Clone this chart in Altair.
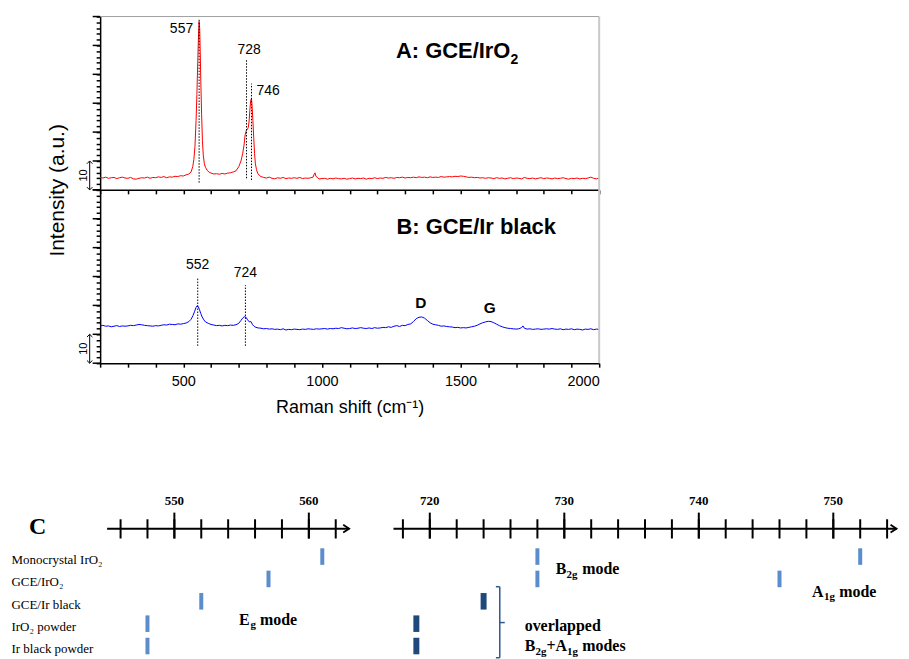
import altair as alt
import pandas as pd

SANS = "Liberation Sans"
SERIF = "Liberation Serif"

# ---------------- A: GCE/IrO2 Raman spectrum (shift cm-1, intensity a.u.) ----------------
spectrum_a = [
    (200, 4.3), (210, 4.1), (220, 4.4), (230, 4.0), (240, 4.2), (250, 4.3), (260, 3.9), (270, 4.2),
    (280, 4.4), (290, 4.1), (300, 4.0), (310, 4.3), (320, 3.8), (330, 3.7), (340, 4.0), (350, 4.2),
    (360, 4.1), (370, 4.4), (380, 4.0), (390, 4.3), (400, 4.2), (410, 4.5), (420, 4.3), (430, 4.6),
    (440, 4.2), (450, 4.5), (460, 4.4), (470, 4.7), (480, 4.6), (490, 4.9), (500, 4.8), (510, 5.2),
    (520, 5.5), (528, 6.2), (534, 8.0), (538, 10.5), (542, 15.0), (546, 24.0), (549, 33.0), (552, 44.0),
    (555, 54.0), (557, 58.3), (559, 56.0), (561, 48.0), (563, 38.0), (566, 26.0), (569, 17.0), (572, 12.0),
    (576, 9.0), (580, 7.8), (586, 6.8), (592, 6.2), (600, 5.8), (610, 5.5), (620, 5.6), (630, 5.4),
    (640, 5.7), (650, 5.5), (660, 5.8), (670, 5.9), (680, 6.2), (690, 6.6), (700, 8.0), (708, 10.0),
    (714, 12.5), (719, 15.5), (723, 19.0), (727, 20.5), (730, 20.8), (734, 21.5), (737, 23.5), (740, 27.5),
    (743, 31.0), (746, 31.6), (748, 29.0), (751, 24.0), (754, 18.0), (757, 12.5), (760, 9.0), (764, 7.0),
    (768, 5.8), (774, 5.0), (780, 4.6), (790, 4.3), (800, 4.1), (810, 4.4), (820, 4.0), (830, 3.8),
    (840, 4.2), (850, 4.0), (860, 4.3), (870, 3.9), (880, 4.1), (890, 4.0), (900, 4.2), (910, 4.0),
    (920, 4.3), (930, 3.9), (940, 4.1), (950, 4.0), (960, 4.2), (968, 4.4), (972, 5.4), (975, 5.9),
    (978, 4.8), (985, 4.1), (990, 3.8), (1000, 3.9), (1010, 4.0), (1020, 3.7), (1030, 4.0), (1040, 3.8),
    (1050, 4.1), (1060, 3.9), (1070, 3.8), (1080, 4.0), (1090, 3.7), (1100, 3.9), (1110, 4.1), (1120, 3.8),
    (1130, 4.0), (1140, 3.9), (1150, 4.1), (1160, 3.7), (1170, 4.0), (1180, 3.9), (1190, 4.2), (1200, 3.9),
    (1210, 4.1), (1220, 4.0), (1230, 4.3), (1240, 4.1), (1250, 4.2), (1260, 4.0), (1270, 4.3), (1280, 4.2),
    (1290, 4.4), (1300, 4.1), (1310, 4.3), (1320, 4.2), (1330, 4.4), (1340, 4.2), (1350, 4.5), (1360, 4.3),
    (1370, 4.4), (1380, 4.2), (1390, 4.5), (1400, 4.3), (1410, 4.4), (1420, 4.3), (1430, 4.6), (1440, 4.4),
    (1450, 4.5), (1460, 4.6), (1470, 4.5), (1480, 4.7), (1490, 4.6), (1500, 4.8), (1510, 4.7), (1520, 4.5),
    (1530, 4.3), (1540, 4.4), (1550, 4.2), (1560, 4.3), (1570, 4.1), (1580, 4.2), (1590, 4.0), (1600, 4.2),
    (1610, 4.1), (1620, 3.9), (1630, 4.2), (1640, 4.0), (1650, 4.1), (1660, 3.8), (1670, 4.0), (1680, 4.2),
    (1690, 3.9), (1700, 4.1), (1710, 4.0), (1720, 3.8), (1730, 4.3), (1740, 4.0), (1750, 3.9), (1760, 4.1),
    (1770, 3.8), (1780, 4.0), (1790, 4.2), (1800, 3.9), (1810, 4.1), (1820, 4.0), (1830, 3.8), (1840, 4.1),
    (1850, 3.9), (1860, 4.0), (1870, 4.2), (1880, 3.9), (1890, 3.7), (1900, 4.0), (1910, 3.9), (1920, 4.1),
    (1930, 3.8), (1940, 4.0), (1950, 3.9), (1960, 4.1), (1970, 4.4), (1980, 4.0), (1990, 3.8), (2000, 4.1),
]

# ---------------- B: GCE/Ir black Raman spectrum ----------------
spectrum_b = [
    (200, 12.9), (210, 13.1), (220, 12.8), (230, 12.9), (240, 12.6), (250, 12.8), (260, 13.0), (270, 12.7),
    (280, 12.9), (290, 12.8), (300, 12.9), (310, 13.1), (320, 13.0), (330, 13.2), (340, 13.4), (350, 13.3),
    (360, 13.1), (370, 13.0), (380, 12.9), (390, 12.8), (400, 13.0), (410, 12.9), (420, 13.1), (430, 13.3),
    (440, 13.2), (450, 13.5), (460, 13.4), (470, 13.3), (480, 13.6), (490, 13.5), (500, 13.7), (510, 13.9),
    (520, 14.4), (528, 15.2), (535, 16.5), (541, 18.0), (546, 19.3), (550, 19.9), (554, 19.6), (558, 18.6),
    (563, 17.2), (568, 16.0), (574, 15.0), (580, 14.3), (590, 13.8), (600, 13.4), (610, 13.2), (620, 13.0),
    (630, 13.1), (640, 12.9), (650, 13.1), (660, 13.0), (670, 13.2), (680, 13.1), (690, 13.3), (700, 13.8),
    (708, 14.8), (714, 15.6), (720, 16.1), (726, 15.9), (732, 15.0), (738, 14.3), (744, 14.4), (750, 13.3),
    (756, 12.7), (762, 12.4), (770, 12.2), (780, 12.1), (790, 11.9), (800, 12.0), (810, 11.8), (820, 11.9),
    (830, 11.7), (840, 11.8), (850, 11.6), (860, 11.9), (870, 11.5), (880, 11.7), (890, 11.6), (900, 11.8),
    (910, 11.7), (920, 11.6), (930, 11.8), (940, 11.7), (950, 11.9), (960, 11.8), (970, 11.7), (980, 11.9),
    (990, 11.8), (1000, 11.9), (1010, 12.0), (1020, 11.8), (1030, 12.0), (1040, 11.9), (1050, 12.1), (1060, 12.0),
    (1070, 12.3), (1080, 12.1), (1090, 11.9), (1100, 12.0), (1110, 12.2), (1120, 12.0), (1130, 12.1), (1140, 12.3),
    (1150, 12.1), (1160, 12.0), (1170, 12.2), (1180, 12.0), (1190, 12.3), (1200, 12.1), (1210, 12.2), (1220, 12.4),
    (1230, 12.3), (1240, 12.6), (1250, 12.4), (1260, 12.8), (1270, 13.0), (1280, 12.7), (1290, 13.1), (1300, 13.0),
    (1310, 13.4), (1320, 13.6), (1330, 14.4), (1340, 15.4), (1350, 15.9), (1360, 16.0), (1370, 15.6), (1380, 14.8),
    (1390, 14.0), (1400, 13.5), (1410, 13.3), (1420, 13.1), (1430, 12.8), (1440, 12.9), (1450, 12.7), (1460, 12.6),
    (1470, 12.5), (1480, 12.3), (1490, 12.4), (1500, 12.2), (1510, 12.3), (1520, 12.2), (1530, 12.4), (1540, 12.6),
    (1550, 12.8), (1560, 13.1), (1570, 13.6), (1580, 14.0), (1590, 14.3), (1600, 14.5), (1610, 14.4), (1620, 14.0),
    (1630, 13.5), (1640, 13.0), (1650, 12.6), (1660, 12.3), (1670, 12.1), (1680, 12.0), (1690, 11.9), (1700, 11.8),
    (1710, 11.9), (1720, 12.3), (1725, 12.9), (1730, 12.1), (1740, 11.8), (1750, 11.9), (1760, 11.7), (1770, 11.8),
    (1780, 11.9), (1790, 11.7), (1800, 11.8), (1810, 11.9), (1820, 11.8), (1830, 12.0), (1840, 11.8), (1850, 11.7),
    (1860, 11.9), (1870, 11.6), (1880, 11.8), (1890, 11.7), (1900, 11.9), (1910, 11.6), (1920, 11.8), (1930, 11.7),
    (1940, 11.5), (1950, 11.8), (1960, 11.7), (1970, 11.9), (1980, 11.6), (1990, 11.8), (2000, 11.7),
]

peaks_a = [557, 728, 746]
peaks_b = [552, 724]
carbon_bands = ["D", "G"]
carbon_band_pos = [1357, 1605]

x_tick_values = [200, 300, 400, 500, 600, 700, 800, 900, 1000, 1100, 1200, 1300, 1400,
                 1500, 1600, 1700, 1800, 1900, 2000]
y_minor_ticks = [0, 2, 4, 6, 8, 10, 12, 14, 16, 18, 20, 22, 24, 26, 28, 30, 32, 34, 36, 38,
                 40, 42, 44, 46, 48, 50, 52, 54, 56, 58, 60]
y_major_ticks = [0, 10, 20, 30, 40, 50, 60]
scale_bar = [0, 10]

# ---------------- C: band positions ----------------
samples = ["Monocrystal IrO₂", "GCE/IrO₂", "GCE/Ir black", "IrO₂ powder", "Ir black powder"]
eg_mode = [561, 557, 552, 548, 548]          # all five samples
b2g_mode = [728, 728]                         # Monocrystal IrO2, GCE/IrO2
a1g_mode = [752, 746]                         # Monocrystal IrO2, GCE/IrO2
overlapped_mode = [724, 719, 719]             # GCE/Ir black, IrO2 powder, Ir black powder
left_ticks = [546, 548, 550, 552, 554, 556, 558, 560, 562]
left_major = [550, 560]
right_ticks = [718, 720, 722, 724, 726, 728, 730, 732, 734, 736, 738, 740, 742, 744, 746,
               748, 750, 752, 754]
right_major = [720, 730, 740, 750]

# ---------------- layout ----------------
X0 = 100.5           # absolute x of plot left edge
W, H = 501, 174      # spectrum panel size
PC_TOP = 14.3 + 2 * H
PC_H = 293.7
PC_W = 800

one = pd.DataFrame({"k": [0]})
x_sc = alt.Scale(domain=[200, 2000], nice=False, zero=False)
y_sc = alt.Scale(domain=[0, 60], nice=False, zero=False)


def xaxis(bottom):
    kw = dict(values=x_tick_values, tickSize=4, tickWidth=1.5, tickColor="black",
              domainColor="black", domainWidth=1.5, grid=False)
    if bottom:
        kw.update(format="d", labelExpr="datum.value % 500 == 0 ? datum.label : ''",
                  labelFont=SANS, labelFontSize=14.5, labelColor="black", labelPadding=7,
                  title="Raman shift (cm⁻¹)", titleFont=SANS, titleFontSize=18,
                  titleFontWeight="normal", titleColor="black", titlePadding=11)
    else:
        kw.update(labels=False, title=None)
    return alt.Axis(**kw)


def yaxis(with_title):
    kw = dict(values=y_minor_ticks, tickSize=4, tickWidth=1.5, tickColor="black",
              domainColor="black", domainWidth=1.5, labels=False, grid=False)
    if with_title:
        kw.update(title="Intensity (a.u.)", titleFont=SANS, titleFontSize=21,
                  titleFontWeight="normal", titleColor="black", titleX=-42.5, titleY=H,
                  titleAngle=270, titleAlign="center", titleBaseline="middle")
    else:
        kw.update(title=None)
    return alt.Axis(**kw)


def make_panel(pairs, color, is_bottom, dotted_specs, label_specs):
    XA = xaxis(is_bottom)
    YA = yaxis(not is_bottom)

    def X(v):
        return alt.XDatum(v, scale=x_sc, axis=XA)

    def Y(v):
        return alt.YDatum(v, scale=y_sc, axis=YA)

    df = pd.DataFrame(pairs, columns=["shift", "intensity"])
    layers = [alt.Chart(df).mark_line(color=color, strokeWidth=1).encode(
        x=alt.X("shift:Q", scale=x_sc, axis=XA),
        y=alt.Y("intensity:Q", scale=y_sc, axis=YA))]
    if not is_bottom:
        layers.append(alt.Chart(one).mark_rule(color="#a0a0a0", strokeWidth=1).encode(
            x=X(200), x2=alt.X2Datum(2000), y=Y(60)))
    # right frame
    layers.append(alt.Chart(one).mark_rule(color="#c8c8c8", strokeWidth=2).encode(
        x=X(2000), y=Y(0), y2=alt.Y2Datum(60)))
    # long (major) ticks on the intensity axis
    layers.append(alt.Chart(pd.DataFrame({"v": y_major_ticks})).mark_rule(
        color="black", strokeWidth=1.5).encode(
        y=alt.Y("v:Q", scale=y_sc, axis=YA), x=alt.value(-7.5), x2=alt.value(0)))
    # "10" scale bar with arrow heads
    layers.append(alt.Chart(pd.DataFrame({"v": scale_bar})).mark_line(
        color="black", strokeWidth=1).encode(
        x=alt.value(-10.5), y=alt.Y("v:Q", scale=y_sc, axis=YA)))
    layers.append(alt.Chart(one).mark_point(shape="M-1,1L0,0L1,1", size=30, filled=False,
                                            color="black", strokeWidth=1, opacity=1).encode(
        x=alt.value(-10.5), y=Y(scale_bar[1])))
    layers.append(alt.Chart(one).mark_point(shape="M-1,-1L0,0L1,-1", size=30, filled=False,
                                            color="black", strokeWidth=1, opacity=1).encode(
        x=alt.value(-10.5), y=Y(scale_bar[0])))
    layers.append(alt.Chart(one).mark_text(text=str(scale_bar[1]), angle=270, font=SANS,
                                           fontSize=11, color="black", baseline="middle",
                                           align="center").encode(
        x=alt.value(-16.5), y=Y(5)))
    for (xv, lo, hi) in dotted_specs:
        layers.append(alt.Chart(one).mark_rule(color="black", strokeWidth=1,
                                               strokeDash=[1.5, 1.5]).encode(
            x=X(xv), y=Y(lo), y2=alt.Y2Datum(hi)))
    for (text, xv, yv, size, weight, align, dx, dy) in label_specs:
        layers.append(alt.Chart(one).mark_text(text=text, font=SANS, fontSize=size,
                                               fontWeight=weight, align=align,
                                               baseline="middle", dx=dx, dy=dy,
                                               color="black").encode(x=X(xv), y=Y(yv)))
    return alt.layer(*layers).properties(width=W, height=H)


top = make_panel(
    spectrum_a, "#ff0000", False,
    [(peaks_a[0], 2.5, 59.2), (peaks_a[1], 4.0, 45.2), (peaks_a[2], 3.4, 36.8)],
    [(str(peaks_a[0]), peaks_a[0], 55.6, 14, "normal", "right", -6, 0),
     (str(peaks_a[1]), peaks_a[1], 48.3, 14, "normal", "center", 2.5, 0),
     (str(peaks_a[2]), peaks_a[2], 34.3, 14, "normal", "left", 5, 0),
     ("A: GCE/IrO", 1267, 48, 22, "bold", "left", 0, 0),
     ("2", 1267, 48, 14, "bold", "left", 115, 9)])

bottom = make_panel(
    spectrum_b, "#0000ff", True,
    [(peaks_b[0], 6, 29.8), (peaks_b[1], 6, 27.0)],
    [(str(peaks_b[0]), peaks_b[0], 33.9, 14, "normal", "center", 0, 0),
     (str(peaks_b[1]), peaks_b[1], 31.2, 14, "normal", "center", 0, 0),
     (carbon_bands[0], carbon_band_pos[0], 20.8, 15.5, "bold", "center", 0, 0),
     (carbon_bands[1], carbon_band_pos[1], 19.0, 15.5, "bold", "center", 0, 0),
     ("B: GCE/Ir black", 1269, 47.3, 22, "bold", "left", 0, 0)])

# ---------- panel C ----------
row_sc = alt.Scale(domain=[-7.648, 5.434], reverse=True, nice=False, zero=False)
lx_sc = alt.Scale(domain=[544.48, 563.11], range=[0, 251.5], nice=False, zero=False)
rx_sc = alt.Scale(domain=[717.3, 754.7], range=[294.5, 799.5], nice=False, zero=False)

LIGHT = "#5b8dcd"
DARK = "#1f497d"
LINE_Y = 528.4 - PC_TOP


def px(xabs):
    return xabs - X0


def py(yabs):
    return yabs - PC_TOP


def number_line(xsc, start, end, ticks, majors):
    line = alt.Chart(one).mark_rule(color="black", strokeWidth=2).encode(
        x=alt.XDatum(start, scale=xsc, axis=None), x2=alt.X2Datum(end), y=alt.value(LINE_Y))
    head = alt.Chart(one).mark_point(shape="M-1.5,-1L0,0L-1.5,1", size=64, filled=False,
                                     color="black", strokeWidth=1.8, opacity=1).encode(
        x=alt.XDatum(end, scale=xsc, axis=None), y=alt.value(LINE_Y))
    minor = alt.Chart(pd.DataFrame({"v": ticks})).mark_rule(color="black", strokeWidth=2).encode(
        x=alt.X("v:Q", scale=xsc, axis=None), y=alt.value(py(519.0)), y2=alt.value(py(538.3)))
    major = alt.Chart(pd.DataFrame({"v": majors})).mark_rule(color="black", strokeWidth=2).encode(
        x=alt.X("v:Q", scale=xsc, axis=None), y=alt.value(py(512.3)), y2=alt.value(py(538.3)))
    labels = alt.Chart(pd.DataFrame({"v": majors})).mark_text(
        font=SERIF, fontSize=13, fontWeight="bold", color="black", baseline="middle",
        align="center").encode(
        x=alt.X("v:Q", scale=xsc, axis=None), y=alt.value(py(500.8)), text="v:Q")
    return [line, head, minor, major, labels]


def bars(df, xsc, color, width):
    return alt.Chart(df).transform_calculate(
        lo="datum.row - 0.37", hi="datum.row + 0.37"
    ).mark_rule(color=color, strokeWidth=width).encode(
        x=alt.X("pos:Q", scale=xsc, axis=None),
        y=alt.Y("lo:Q", scale=row_sc, axis=None), y2="hi:Q")


eg_df = pd.DataFrame({"row": [1, 2, 3, 4, 5], "pos": eg_mode})
light_r_df = pd.DataFrame({"row": [1, 2, 1, 2], "pos": b2g_mode + a1g_mode})
dark_df = pd.DataFrame({"row": [3, 4, 5], "pos": overlapped_mode})
rows_df = pd.DataFrame({"sample": samples, "row": [1, 2, 3, 4, 5]})

left_group = alt.layer(*(number_line(lx_sc, 545, 563.0, left_ticks, left_major)
                         + [bars(eg_df, lx_sc, LIGHT, 4)]))
right_group = alt.layer(*(number_line(rx_sc, 717.3, 754.7, right_ticks, right_major)
                          + [bars(light_r_df, rx_sc, LIGHT, 4), bars(dark_df, rx_sc, DARK, 6)]))


def ptxt(text, xabs, yabs, size, weight="bold", baseline="alphabetic", align="left"):
    return alt.Chart(one).mark_text(text=text, font=SERIF, fontSize=size, fontWeight=weight,
                                    color="black", baseline=baseline, align=align).encode(
        x=alt.value(px(xabs)), y=alt.value(py(yabs)))


def seg(x1, y1, x2, y2, color="#2e5a8f"):
    return alt.Chart(one).mark_rule(color=color, strokeWidth=1.5).encode(
        x=alt.value(px(x1)), x2=alt.value(px(x2)), y=alt.value(py(y1)), y2=alt.value(py(y2)))


row_labels = alt.Chart(rows_df).mark_text(font=SERIF, fontSize=13, align="left",
                                          baseline="middle", dy=3.3, color="black").encode(
    x=alt.value(px(11.5)), y=alt.Y("row:Q", scale=row_sc, axis=None), text="sample:N")

free_layers = [
    row_labels,
    ptxt("C", 37.7, 527.2, 24, baseline="middle", align="center"),
    ptxt("E", 240, 625, 16), ptxt("g", 251.5, 628.5, 11), ptxt("mode", 261, 625, 16),
    ptxt("B", 557.8, 574, 16), ptxt("2g", 568.8, 577.5, 11), ptxt("mode", 584.5, 574, 16),
    ptxt("A", 815.2, 596.7, 16), ptxt("1g", 827.2, 600.2, 11), ptxt("mode", 842.5, 596.7, 16),
    ptxt("overlapped", 526.7, 631, 16),
    ptxt("B", 526.7, 651.7, 16), ptxt("2g", 537.5, 655.2, 11), ptxt("+A", 548.5, 651.7, 16),
    ptxt("1g", 569.3, 655.2, 11), ptxt("modes", 584.5, 651.7, 16),
    seg(501.7, 586.7, 501.7, 658.0),
    seg(497.8, 586.7, 501.7, 586.7),
    seg(497.8, 658.0, 501.7, 658.0),
    seg(501.7, 622.7, 506.7, 622.7),
]
free_group = alt.layer(*free_layers)

panel_c = alt.layer(left_group, right_group, free_group).resolve_scale(
    x="independent").properties(width=PC_W, height=PC_H)

chart = alt.vconcat(top, bottom, panel_c, spacing=0, bounds="flush").properties(
    padding={"left": 3.5, "top": 6.3, "right": 0, "bottom": 0}
).configure_view(strokeWidth=0)

chart.save("out.html", embed_options={"renderer": "svg", "actions": False})
